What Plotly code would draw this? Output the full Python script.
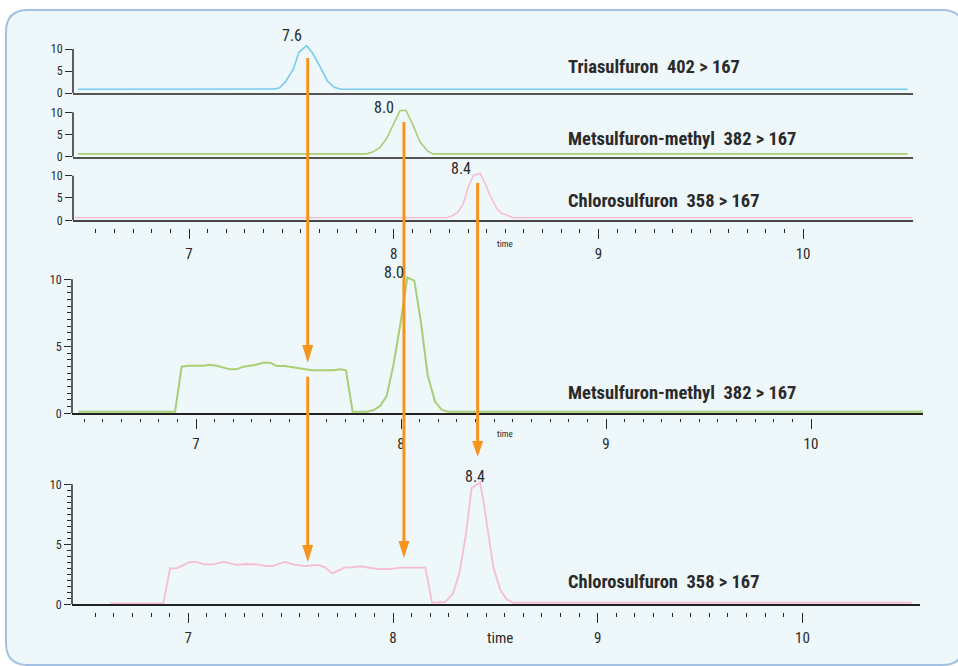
import plotly.graph_objects as go

W, H = 958, 666

# ---------------- data ----------------
x_tick_values = [7, 8, 9, 10]
x_tick_labels = ["7", "8", "9", "10"]
y_tick_values = [0, 5, 10]
y_tick_labels = ["0", "5", "10"]

# stacked panels (top)
tria_time = [6.458, 7.412, 7.441, 7.472, 7.510, 7.537, 7.575, 7.604, 7.640, 7.676, 7.710, 7.741, 10.51]
tria_signal = [0.85, 0.91, 1.14, 2.57, 5.45, 9.25, 10.75, 9.02, 5.98, 2.73, 1.30, 0.85, 0.85]

mets_top_time = [6.458, 7.868, 7.900, 7.933, 7.966, 7.998, 8.031, 8.060, 8.096, 8.128, 8.166, 8.193, 10.51]
mets_top_signal = [0.64, 0.64, 1.09, 2.09, 4.14, 7.16, 10.41, 10.41, 6.93, 3.36, 1.25, 0.64, 0.64]

chlo_top_time = [6.443, 8.259, 8.285, 8.316, 8.340, 8.365, 8.389, 8.422, 8.446, 8.470, 8.503, 8.527, 8.552, 8.583, 10.53]
chlo_top_signal = [0.58, 0.58, 0.96, 1.93, 3.81, 7.53, 10.0, 10.54, 8.30, 5.67, 2.69, 1.57, 1.19, 0.58, 0.58]

# middle panel (Metsulfuron-methyl)
mets_time = [6.426, 6.898, 6.930, 6.962, 7.036, 7.065, 7.101, 7.166, 7.198, 7.231, 7.288, 7.328,
             7.361, 7.394, 7.434, 7.475, 7.523, 7.564, 7.670, 7.702, 7.732, 7.764, 7.832, 7.865,
             7.898, 7.930, 7.962, 7.995, 8.031, 8.065, 8.098, 8.130, 8.166, 8.199, 8.231, 10.546]
mets_signal = [0.12, 0.12, 3.48, 3.55, 3.55, 3.63, 3.55, 3.28, 3.28, 3.48, 3.61, 3.78,
               3.78, 3.53, 3.53, 3.43, 3.31, 3.21, 3.21, 3.28, 3.21, 0.12, 0.12, 0.22,
               0.55, 1.29, 3.53, 6.47, 10.13, 9.90, 6.72, 2.86, 0.87, 0.25, 0.12, 0.12]

# bottom panel (Chlorosulfuron)
chlo_time = [6.618, 6.878, 6.911, 6.943, 7.008, 7.041, 7.077, 7.122, 7.174, 7.236, 7.285, 7.334,
             7.383, 7.412, 7.472, 7.513, 7.570, 7.635, 7.668, 7.703, 7.766, 7.798, 7.839, 7.928,
             7.985, 8.034, 8.158, 8.191, 8.254, 8.292, 8.324, 8.357, 8.384, 8.425, 8.441, 8.466,
             8.490, 8.523, 8.555, 8.588, 10.534]
chlo_signal = [0.08, 0.08, 3.0, 3.0, 3.53, 3.53, 3.33, 3.33, 3.53, 3.28, 3.36, 3.33,
               3.19, 3.19, 3.53, 3.33, 3.19, 3.28, 3.08, 2.58, 3.08, 3.08, 3.17, 2.94,
               2.94, 3.06, 3.06, 0.14, 0.19, 0.86, 2.58, 5.92, 9.67, 10.17, 8.69, 5.92,
               3.13, 1.25, 0.42, 0.13, 0.13]

peak_rt = [7.58, 8.05, 8.41]
peak_text = ["7.6", "8.0", "8.4"]
compound_labels = ["Triasulfuron  402 > 167",
                   "Metsulfuron-methyl  382 > 167",
                   "Chlorosulfuron  358 > 167"]

# ---------------- styling ----------------
BLUE = "#78CCF0"
GREEN = "#A8CF74"
PINK = "#F6BDD4"
ORANGE = "#F7941D"
DARK = "#2a2a2a"
FONT = "Roboto Condensed, Open Sans Condensed, Roboto, sans-serif"


def py2p(py):
    return 1 - py / H


def px2p(px):
    return px / W


def ydom(py0, ppu, ymax):
    return [py2p(py0), py2p(py0 - ppu * ymax)]


def xrng(px_left, px_right, px7, ppu):
    return [7 + (px_left - px7) / ppu, 7 + (px_right - px7) / ppu]


TOP_X = dict(left=73, right=913, px7=189, ppu=204.7)
MID_X = dict(left=72, right=923, px7=196, ppu=205)
BOT_X = dict(left=72, right=920, px7=188.3, ppu=204.7)


def xdomain(d):
    return [px2p(d["left"]), px2p(d["right"])]


def xrange_of(d):
    return xrng(d["left"], d["right"], d["px7"], d["ppu"])


def minor_vals(lo):
    vals = []
    for n in range(6, 10):
        for k in range(1, 11):
            v = n + k / 11
            if lo <= v <= 10:
                vals.append(v)
    return vals


fig = go.Figure()

series = [
    (tria_time, tria_signal, BLUE, "x", "y", 1.6),
    (mets_top_time, mets_top_signal, GREEN, "x2", "y2", 1.6),
    (chlo_top_time, chlo_top_signal, PINK, "x3", "y3", 1.6),
    (mets_time, mets_signal, GREEN, "x5", "y5", 2.0),
    (chlo_time, chlo_signal, PINK, "x7", "y7", 1.8),
]
for xs, ys, col, xa, ya, lw in series:
    fig.add_trace(go.Scatter(x=xs, y=ys, mode="lines", line=dict(color=col, width=lw),
                             xaxis=xa, yaxis=ya, showlegend=False, hoverinfo="skip"))

# empty traces to carry the offset tick axes
for xa, ya in [("x4", "y3"), ("x6", "y5"), ("x8", "y7")]:
    fig.add_trace(go.Scatter(x=[], y=[], xaxis=xa, yaxis=ya, showlegend=False, hoverinfo="skip"))

layout = dict(
    width=W, height=H,
    margin=dict(l=0, r=0, t=0, b=0),
    paper_bgcolor="white",
    plot_bgcolor="rgba(0,0,0,0)",
    template="none",
    showlegend=False,
    font=dict(family=FONT, color=DARK),
)


def base_x(d, line_col, line_w):
    return dict(domain=xdomain(d), range=xrange_of(d), showline=True, linecolor=line_col,
                linewidth=line_w, ticks="", showticklabels=False, showgrid=False,
                zeroline=False, automargin=False, fixedrange=True)


def y_ax(py0, ppu, ymax, anchor, minor=False):
    ax = dict(domain=ydom(py0, ppu, ymax), range=[0, ymax], anchor=anchor, showline=False,
              ticks="outside", ticklen=7, tickwidth=1.2, tickcolor=DARK,
              tickmode="array", tickvals=y_tick_values, ticktext=y_tick_labels,
              tickfont=dict(size=12, color=DARK, family=FONT), showgrid=False,
              zeroline=False, automargin=False, fixedrange=True)
    if minor:
        ax["minor"] = dict(dtick=0.5, tick0=0, ticks="outside", ticklen=4,
                           tickwidth=1, tickcolor=DARK)
    return ax


def tick_x(d, overlay, py, lo, lab_size, standoff):
    return dict(overlaying=overlay, anchor="free", position=py2p(py), side="bottom",
                range=xrange_of(d), showline=False, ticks="outside", ticklen=10,
                tickwidth=1, tickcolor=DARK, tickmode="array", tickvals=x_tick_values,
                ticktext=x_tick_labels, tickfont=dict(size=lab_size, color=DARK, family=FONT),
                ticklabelstandoff=standoff,
                minor=dict(tickmode="array", tickvals=minor_vals(lo), ticks="outside",
                           ticklen=3.5, tickwidth=1, tickcolor=DARK),
                showgrid=False, zeroline=False, automargin=False, fixedrange=True)


layout["xaxis"] = dict(base_x(TOP_X, "#555555", 2), anchor="y")
layout["xaxis2"] = dict(base_x(TOP_X, "#555555", 2), anchor="y2")
layout["xaxis3"] = dict(base_x(TOP_X, "#444444", 2), anchor="y3")
layout["xaxis4"] = tick_x(TOP_X, "x3", 228, 6.48, 15, 2)
layout["xaxis5"] = dict(base_x(MID_X, "#222222", 1.6), anchor="y5")
layout["xaxis6"] = tick_x(MID_X, "x5", 417.5, 6.38, 15, 2)
layout["xaxis7"] = dict(base_x(BOT_X, "#222222", 1.6), anchor="y7")
layout["xaxis8"] = tick_x(BOT_X, "x7", 612, 6.48, 15, 2)

layout["yaxis"] = y_ax(93, 4.4, 11.2, "x")
layout["yaxis2"] = y_ax(156.7, 4.44, 11.2, "x2")
layout["yaxis3"] = y_ax(220.3, 4.46, 11.2, "x3")
layout["yaxis5"] = y_ax(413.3, 13.4, 10.4, "x5", minor=True)
layout["yaxis7"] = y_ax(604.3, 12.0, 10.4, "x7", minor=True)

fig.update_layout(**layout)

# ---------------- shapes ----------------
shapes = []
# rounded background panel
L, T, R, B, r = 6, 10, 964, 665, 22


def P(px, py):
    return f"{px2p(px):.5f},{py2p(py):.5f}"


bg_path = (f"M{P(L + r, T)} L{P(R - r, T)} Q{P(R, T)} {P(R, T + r)} "
           f"L{P(R, B - r)} Q{P(R, B)} {P(R - r, B)} L{P(L + r, B)} "
           f"Q{P(L, B)} {P(L, B - r)} L{P(L, T + r)} Q{P(L, T)} {P(L + r, T)} Z")
shapes.append(dict(type="path", path=bg_path, xref="paper", yref="paper", layer="below",
                   fillcolor="#EEF7FA", line=dict(color="#A3C2E2", width=2)))

# y-axis lines from 0 to 10
for xa, ya in [("x", "y"), ("x2", "y2"), ("x3", "y3"), ("x5", "y5"), ("x7", "y7")]:
    shapes.append(dict(type="line", xref=f"{xa} domain", yref=ya, x0=0, x1=0, y0=0, y1=10,
                       line=dict(color=DARK, width=1.5)))

# orange arrows: (peak index, shaft top, head base, tip) in page pixels
arrow_segments = [(0, 58, 345, 363), (0, 376.7, 545, 562), (1, 122, 541, 558), (2, 183, 441, 457)]
hw = 5.5 / TOP_X["ppu"]
for i, top, base, tip in arrow_segments:
    rt = peak_rt[i]
    shapes.append(dict(type="line", xref="x", yref="paper", x0=rt, x1=rt,
                       y0=py2p(top), y1=py2p(base + 2), line=dict(color=ORANGE, width=3)))
    shapes.append(dict(type="path", xref="x", yref="paper",
                       path=f"M{rt - hw},{py2p(base)} L{rt + hw},{py2p(base)} L{rt},{py2p(tip)} Z",
                       fillcolor=ORANGE, line=dict(width=0)))
fig.update_layout(shapes=shapes)

# ---------------- annotations ----------------
ann = []
label_pos = [(566, 67.5), (566, 139), (566, 201), (566, 393), (566, 582)]
label_idx = [0, 1, 2, 1, 2]
for (px, py), i in zip(label_pos, label_idx):
    ann.append(dict(text=compound_labels[i], xref="paper", yref="paper", x=px2p(px), y=py2p(py),
                    xanchor="left", yanchor="middle", showarrow=False,
                    font=dict(size=18.5, color=DARK, family=FONT, weight="bold")))

# peak labels (x from retention time, shifted left of the arrow)
peak_lab = [(0, 35.8, -16), (1, 107.5, -20), (2, 168.7, -17), (1, 272, -10), (2, 476.5, -3)]
for i, py, sh in peak_lab:
    ann.append(dict(text=peak_text[i], xref="x", yref="paper", x=peak_rt[i], y=py2p(py),
                    xshift=sh, xanchor="center", yanchor="middle", showarrow=False,
                    font=dict(size=16, color=DARK, family=FONT)))

# "time" labels
for px, py, sz in [(505, 244, 9), (505, 434, 9), (500, 638, 15)]:
    ann.append(dict(text="time", xref="paper", yref="paper", x=px2p(px), y=py2p(py),
                    xanchor="center", yanchor="middle", showarrow=False,
                    font=dict(size=sz, color=DARK, family=FONT)))
fig.update_layout(annotations=ann)

fig.write_html("out.html", config={"displayModeBar": False},
               post_script="document.body.style.margin='0';")
